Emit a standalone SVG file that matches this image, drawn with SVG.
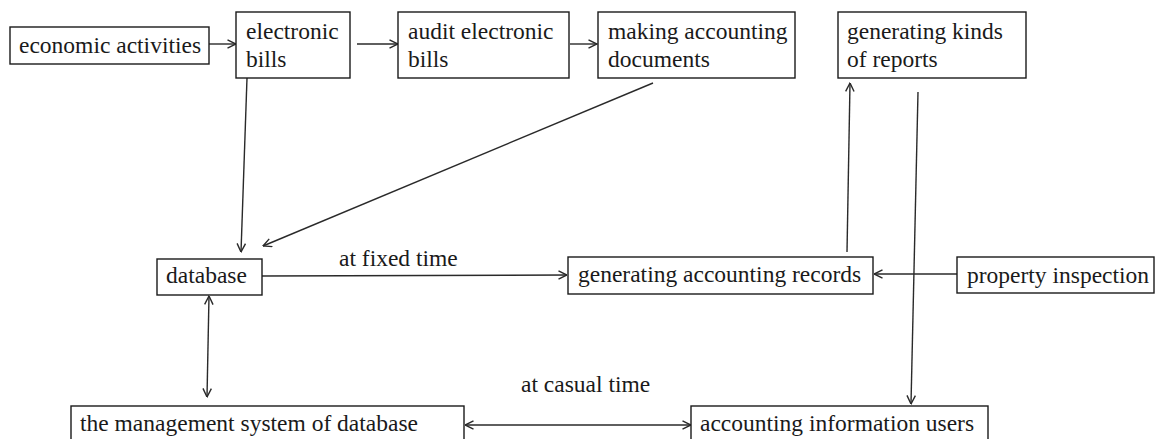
<svg xmlns="http://www.w3.org/2000/svg" width="1156" height="439" viewBox="0 0 1156 439">
  <defs>
    <style>
      .box { fill: #ffffff; stroke: #1a1a1a; stroke-width: 1.4; }
      .lbl { font-family: "Liberation Serif", "Times New Roman", serif; font-size: 23.5px; fill: #1a1a1a; }
      .edge { stroke: #2a2a2a; stroke-width: 1.4; fill: none; }
      .arr { marker-end: url(#ah); }
      .bi { marker-end: url(#ah); marker-start: url(#ah); }
    </style>
    <marker id="ah" viewBox="0 0 10 10" refX="9.5" refY="5" markerWidth="10" markerHeight="10" markerUnits="userSpaceOnUse" orient="auto-start-reverse">
      <path d="M1,0.8 L9.5,5 L1,9.2" fill="none" stroke="#2a2a2a" stroke-width="1.4"/>
    </marker>
  </defs>
  <rect width="1156" height="439" fill="#ffffff"/>

  <g id="connectors">
    <line class="edge arr" x1="209" y1="44" x2="236" y2="44"/>
    <line class="edge arr" x1="357" y1="44" x2="398" y2="44"/>
    <line class="edge arr" x1="570" y1="44" x2="597" y2="44"/>
    <line class="edge arr" x1="247" y1="78" x2="241" y2="252"/>
    <line class="edge arr" x1="653" y1="83" x2="263" y2="246"/>
    <line class="edge arr" x1="262" y1="276" x2="567" y2="275"/>
    <line class="edge arr" x1="847" y1="252" x2="850" y2="83"/>
    <line class="edge arr" x1="918" y1="92" x2="911" y2="404"/>
    <line class="edge arr" x1="957" y1="274" x2="874" y2="274"/>
    <line class="edge bi" x1="209" y1="296" x2="207" y2="397"/>
    <line class="edge bi" x1="465" y1="425" x2="691" y2="425"/>
    <text class="lbl" x="339" y="266">at fixed time</text>
    <text class="lbl" x="521" y="392">at casual time</text>
  </g>

  <g id="economic-activities">
    <rect class="box" x="10" y="27" width="199" height="37"/>
    <text class="lbl" x="19" y="53">economic activities</text>
  </g>
  <g id="electronic-bills">
    <rect class="box" x="236" y="12" width="114" height="66"/>
    <text class="lbl" x="246" y="39">electronic</text>
    <text class="lbl" x="246" y="67">bills</text>
  </g>
  <g id="audit-electronic-bills">
    <rect class="box" x="398" y="12" width="171" height="66"/>
    <text class="lbl" x="408" y="39">audit electronic</text>
    <text class="lbl" x="408" y="67">bills</text>
  </g>
  <g id="making-accounting-documents">
    <rect class="box" x="598" y="12" width="197" height="66"/>
    <text class="lbl" x="608" y="39">making accounting</text>
    <text class="lbl" x="608" y="67">documents</text>
  </g>
  <g id="generating-kinds-of-reports">
    <rect class="box" x="838" y="12" width="188" height="66"/>
    <text class="lbl" x="847" y="39">generating kinds</text>
    <text class="lbl" x="847" y="67">of reports</text>
  </g>
  <g id="database">
    <rect class="box" x="157" y="259" width="105" height="36"/>
    <text class="lbl" x="166" y="283">database</text>
  </g>
  <g id="generating-accounting-records">
    <rect class="box" x="568" y="257" width="305" height="37"/>
    <text class="lbl" x="578" y="282">generating accounting records</text>
  </g>
  <g id="property-inspection">
    <rect class="box" x="957" y="257" width="197" height="36"/>
    <text class="lbl" x="967" y="283">property inspection</text>
  </g>
  <g id="management-system">
    <rect class="box" x="71" y="406" width="393" height="40"/>
    <text class="lbl" x="80" y="431">the management system of database</text>
  </g>
  <g id="accounting-information-users">
    <rect class="box" x="691" y="406" width="297" height="40"/>
    <text class="lbl" x="700" y="431">accounting information users</text>
  </g>
</svg>
